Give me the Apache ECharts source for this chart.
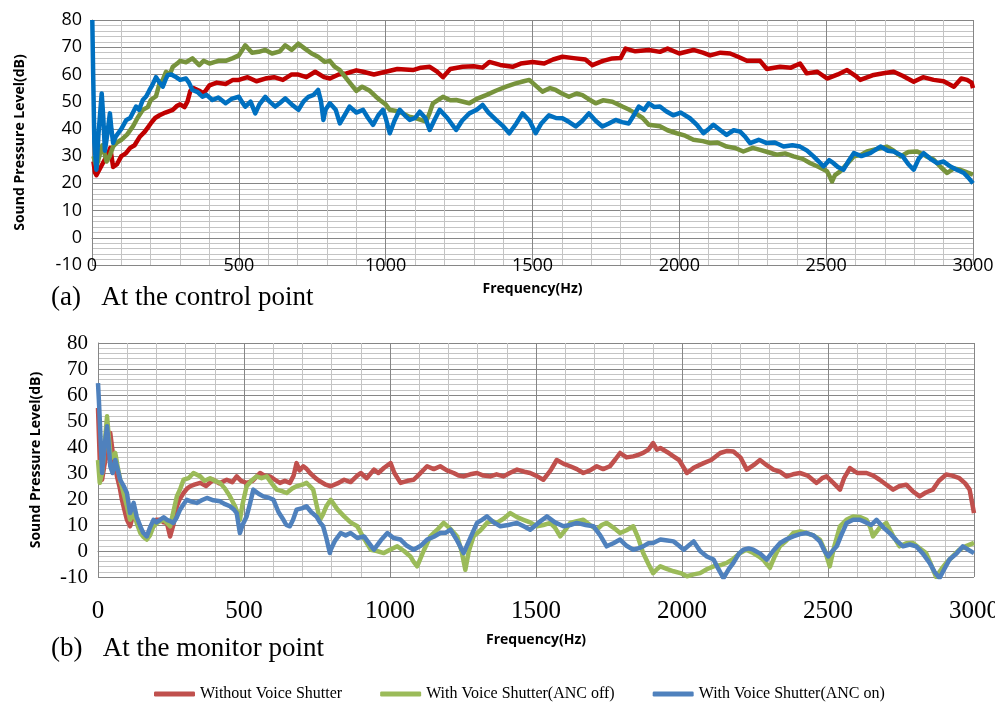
<!DOCTYPE html>
<html>
<head>
<meta charset="utf-8">
<title>Sound Pressure Level</title>
<script src="https://cdn.jsdelivr.net/npm/echarts@6/dist/echarts.min.js"></script>
<style>
  html, body { margin: 0; padding: 0; background: #fff; }
  #main { width: 995px; height: 702px; }
</style>
</head>
<body>
<div id="main"></div>
<script>
// series names (legend)
var names = ['Without Voice Shutter', 'With Voice Shutter(ANC off)', 'With Voice Shutter(ANC on)'];

// (a) control point  -  [Hz, dB]
var ctrlWithout = [[5,28],[10,24],[15,23],[25,25],[40,28],[55,31],[62,33],[72,26],[85,27],[100,30],[115,31],[130,33],[145,34],[162,37],[180,39],[200,42],[215,44],[230,45],[250,46],[275,47],[290,48.5],[300,49],[315,48],[325,50],[335,54],[345,55],[365,54],[380,53],[400,56],[425,57],[455,56.5],[480,58],[500,58],[530,59],[560,57.5],[590,58.5],[620,59],[650,58],[680,60],[700,60],[730,59],[760,61],[790,59],[810,58.5],[840,60],[866,60.4],[900,61.5],[923,61],[960,60],[1000,61],[1040,62],[1093,61.6],[1120,62.5],[1150,62.8],[1175,61],[1195,59],[1220,62],[1262,62.8],[1300,63],[1330,62.5],[1353,64.6],[1390,63.5],[1432,62.8],[1460,64],[1500,64.6],[1540,64],[1570,65.5],[1602,66.5],[1640,66],[1680,65.5],[1704,63.4],[1740,65],[1772,65.9],[1800,66],[1817,69.5],[1850,68.5],[1896,69],[1934,68.3],[1960,69.5],[2000,67.7],[2048,69],[2080,68],[2105,67],[2140,68],[2173,67.7],[2200,66.5],[2230,65],[2275,65],[2298,62],[2343,62.8],[2380,62.5],[2411,64],[2434,60.4],[2470,61],[2503,58.5],[2540,60],[2571,61.6],[2600,59.5],[2616,58],[2662,59.8],[2700,60.5],[2730,61],[2760,59.5],[2798,57.3],[2830,59],[2866,58],[2900,57.5],[2935,55.5],[2960,58.5],[2980,58],[2995,57],[3000,55]];
var ctrlAncOff = [[5,30],[15,26],[25,30],[35,34],[45,30],[50,28],[60,30],[72,33.5],[85,35],[100,36],[120,38],[140,41],[155,44],[173,47],[190,48],[200,50.6],[218,52],[230,56.7],[241,58],[252,61],[265,60],[275,62.8],[290,64],[300,65],[320,64.5],[342,65.9],[365,63.4],[380,65],[400,64],[430,65],[455,65],[480,66],[500,67],[522,70.7],[545,68],[568,68.3],[590,69],[613,67.7],[640,68.5],[658,70.7],[680,69],[703,71.3],[725,69.5],[748,67.7],[770,66.5],[793,64.6],[810,65],[825,63],[844,61.6],[870,58],[900,54],[920,55.5],[946,54],[965,52],[980,50.6],[1000,49],[1014,47],[1040,46.5],[1059,45.7],[1080,44.5],[1104,43.9],[1138,42.7],[1150,46],[1161,49.4],[1195,51.8],[1220,50.5],[1240,50.6],[1285,49.4],[1310,51],[1342,52.4],[1375,54],[1410,55.5],[1443,56.7],[1470,57.5],[1489,58],[1510,56],[1534,53.7],[1560,55],[1579,54.3],[1600,53],[1624,51.8],[1650,53],[1670,52.4],[1690,51],[1715,49.4],[1740,50.5],[1772,50],[1806,48.2],[1830,47],[1851,45.7],[1875,44],[1896,41.5],[1934,41],[1960,39.5],[1991,38.4],[2020,37.5],[2048,36],[2080,35.5],[2105,34.8],[2130,35],[2161,33.5],[2190,33],[2218,31.7],[2250,33],[2275,32.3],[2300,31.5],[2332,30.5],[2360,31],[2389,29.9],[2420,29],[2446,27.4],[2475,26],[2503,24.4],[2512,22.5],[2520,20.7],[2530,23],[2548,24.4],[2570,27],[2594,29.9],[2620,30.5],[2639,31.7],[2670,32.5],[2707,33.5],[2730,32],[2753,29.9],[2780,31.5],[2810,31.7],[2840,30],[2866,28.7],[2890,26],[2912,23.8],[2935,25.5],[2957,25],[2980,24],[3000,23.2]];
var ctrlAncOn = [[1,80],[4,60],[8,35],[15,25],[22,38],[33,53],[38,45],[44,32],[52,38],[61,45.7],[66,40],[72,34.8],[80,37],[89,38.4],[100,40],[117,43.3],[130,44],[150,48.2],[160,47],[173,50.6],[185,52],[196,54.3],[205,56],[218,59],[230,57],[241,55.5],[250,58],[258,59.8],[270,60],[286,59],[300,58],[320,58.5],[330,57],[342,54.3],[360,53.5],[376,51.8],[390,52.5],[410,50.6],[430,51.5],[455,49.4],[475,51],[500,51.8],[510,50],[522,48.2],[540,50],[556,45.7],[570,49],[590,51.8],[605,50],[624,48.2],[640,49.5],[658,51.2],[680,49],[703,47],[720,50],[737,51.8],[755,52.5],[770,54.3],[780,50],[788,43.3],[795,47],[810,49.4],[830,47],[844,42],[860,45],[877,48.2],[900,46],[923,47],[940,44],[957,41.5],[975,45],[991,47],[1000,44],[1014,38.4],[1030,43],[1048,47],[1065,45],[1082,43.3],[1100,44],[1116,46.3],[1135,44],[1150,39.6],[1165,43],[1184,47],[1210,44],[1240,39.6],[1260,43],[1285,45.7],[1310,47],[1330,48.8],[1350,46],[1376,43.3],[1400,41],[1421,38.4],[1445,42],[1466,45.7],[1490,43],[1511,38.4],[1530,42],[1556,45],[1580,44],[1602,43.9],[1625,42.5],[1647,40.9],[1670,43],[1692,45.7],[1715,43],[1738,40.9],[1760,42],[1783,43.3],[1805,42.5],[1828,42],[1845,45],[1862,48.2],[1880,47],[1896,49.4],[1915,48],[1934,48.2],[1955,46.5],[1979,45],[2005,46],[2036,43.9],[2060,41.5],[2082,38.4],[2100,40],[2116,41.5],[2140,39.5],[2161,37.8],[2185,39.5],[2207,39],[2225,37],[2241,34.8],[2270,36],[2298,34.8],[2325,35],[2355,33.5],[2385,34],[2411,33.5],[2435,32],[2457,29.9],[2475,28],[2491,26.2],[2510,28.5],[2525,27.4],[2540,26],[2559,25],[2575,28],[2594,31.1],[2620,30],[2650,31.1],[2670,32.5],[2685,33.5],[2710,32],[2730,31.7],[2760,30],[2780,27],[2798,25],[2815,29],[2832,31.1],[2855,29],[2878,27.4],[2900,28],[2923,26.2],[2945,25],[2969,23.8],[2985,22],[3000,20]];

// (b) monitor point  -  [Hz, dB]
var monWithout = [[0,55],[6,35],[14,27.4],[22,33],[31,37.7],[42,45.4],[48,40],[54,35],[65,28.7],[75,24],[82,19.7],[90,16],[99,12],[110,9.5],[122,14.6],[135,11],[145,8.2],[155,7],[167,5.6],[180,8],[190,9.5],[200,12],[213,12],[225,11],[236,10.8],[247,5.6],[258,10],[270,17.2],[280,20],[293,22.3],[305,24],[316,24.9],[330,25.5],[350,26.2],[370,25],[395,27.4],[415,26],[441,27.4],[460,26.5],[475,28.7],[490,27],[509,26.2],[530,27],[555,30],[570,29],[589,28.7],[605,27.5],[623,26.2],[640,27],[657,26.2],[670,29],[680,33.8],[690,31],[703,32.6],[715,31.5],[726,30],[745,28],[760,26.8],[780,25.5],[797,24.9],[820,26],[843,27.4],[865,26.5],[888,29],[900,30],[920,28],[945,31.3],[960,30],[980,32],[1002,33.8],[1015,30],[1036,26.2],[1060,27],[1081,27.4],[1100,29.5],[1127,32.6],[1150,31.5],[1172,32.6],[1195,31],[1218,30],[1235,29],[1252,28.7],[1275,29.5],[1298,30],[1320,29],[1343,28.7],[1365,29.5],[1389,28.7],[1410,30],[1435,31.3],[1460,30.5],[1480,30],[1500,29],[1525,27.4],[1550,31],[1571,35],[1595,33.5],[1617,32.6],[1640,31.5],[1662,30],[1685,31],[1708,32.6],[1730,31.5],[1753,32.6],[1770,35],[1788,37.7],[1810,36],[1833,36.4],[1850,37],[1867,37.7],[1885,39],[1901,41.5],[1914,39],[1926,39.6],[1950,38],[1971,36.4],[1990,35],[2017,30],[2040,32],[2074,33.8],[2100,35],[2131,37.7],[2155,38.5],[2176,38.3],[2200,36],[2222,31.3],[2245,33],[2267,35],[2290,33],[2313,31.3],[2335,30.5],[2358,28.7],[2380,29.5],[2404,30],[2430,29],[2461,26.2],[2480,28],[2495,28.7],[2520,26],[2541,23.6],[2555,28],[2575,31.9],[2600,30],[2632,30],[2655,29],[2677,27.4],[2700,25.5],[2723,23.6],[2745,25],[2768,25.5],[2790,23],[2814,21],[2835,22.5],[2859,23.6],[2880,27],[2905,29.4],[2925,29],[2950,28],[2970,26],[2985,23.6],[3000,14.6]];
var monAncOff = [[0,35],[6,26.2],[14,30],[22,40],[31,51.8],[36,45],[42,37.7],[50,36],[59,37.7],[68,32],[76,27.4],[88,22],[99,17.2],[110,12],[122,14.6],[135,10],[145,6.9],[155,5.5],[167,4.4],[178,6],[190,9.5],[205,11],[224,12],[235,11],[247,9.5],[258,15],[270,21],[282,24],[293,27.4],[310,28],[327,30],[350,28.7],[365,27],[384,28],[400,27],[418,26.2],[435,24],[452,21],[470,17],[486,12],[495,18],[509,24.9],[525,27],[543,28.7],[560,28],[578,28.7],[595,26],[612,23.6],[630,23],[646,22.3],[665,24],[680,24.9],[700,25.5],[714,26.2],[725,25],[737,23.6],[748,18],[760,12],[770,14],[782,17.2],[797,19.7],[820,16],[843,13.3],[865,11],[888,9.5],[910,5],[934,0.5],[955,0],[979,-0.8],[1000,0.5],[1025,1.8],[1048,0],[1070,-2.1],[1080,-4],[1093,-5.9],[1115,0],[1138,5.6],[1160,8],[1184,10.8],[1207,8.5],[1230,5.6],[1245,0],[1258,-7.2],[1270,0],[1286,5.6],[1310,8],[1332,10.8],[1350,11.5],[1366,10.8],[1390,12.5],[1412,14.6],[1435,13],[1457,12],[1480,11],[1503,9.5],[1525,10],[1549,10.8],[1565,9],[1583,5.6],[1600,8],[1617,10.8],[1640,11.5],[1662,12],[1685,10],[1708,8.2],[1725,10],[1742,10.8],[1765,9],[1788,6.9],[1810,8],[1833,9.5],[1850,5],[1867,-0.8],[1885,-5],[1901,-8.5],[1914,-7],[1926,-5.9],[1950,-7],[1971,-7.8],[1995,-8.5],[2017,-9.7],[2040,-9],[2062,-8.5],[2085,-7],[2108,-5.9],[2130,-5.5],[2153,-4.6],[2176,-3],[2199,-0.8],[2220,0.5],[2244,-0.8],[2262,-2],[2278,-3.3],[2290,-5],[2301,-6.5],[2318,-2],[2335,1.8],[2358,4],[2381,6.9],[2405,7.5],[2427,6.9],[2450,6],[2472,4.4],[2490,0],[2506,-5.9],[2522,2],[2541,9.5],[2563,12],[2586,13.3],[2610,13],[2632,12],[2645,9],[2654,5.6],[2677,9],[2700,10.8],[2722,6],[2745,1.8],[2768,3],[2791,3.1],[2815,1],[2836,-0.8],[2852,-5],[2870,-10],[2888,-7],[2905,-4.6],[2928,-2],[2950,0.5],[2975,2],[3000,3.1]];
var monAncOn = [[0,64.6],[3,58],[6,50.5],[10,40],[14,30],[22,40],[31,48],[36,42],[42,32.6],[50,30],[59,35],[68,31],[76,27.4],[88,25],[99,22.3],[105,18],[110,14.6],[122,18.5],[133,13],[145,9.5],[155,7],[167,5.6],[178,9],[190,12],[200,11],[213,12],[225,13],[236,12],[247,11.5],[258,10.8],[270,13],[281,15.9],[293,18],[304,19.7],[320,19],[338,18.5],[355,19.5],[373,20.4],[395,19.5],[418,19.1],[435,18],[452,17.2],[465,16],[475,14.6],[486,6.9],[495,10],[509,13.3],[520,18],[532,23.6],[550,22],[566,21],[585,20.5],[601,19.7],[618,15],[635,12],[645,10],[657,9.5],[668,12],[680,15.9],[700,16.5],[714,17.2],[730,15],[748,13.3],[760,11],[771,9.5],[782,5],[794,-0.8],[797,0.5],[812,4],[831,6.9],[848,6],[865,6.9],[888,5],[911,5.6],[928,3],[945,0.5],[968,4],[991,6.9],[1012,5],[1036,4.4],[1058,2],[1081,0.5],[1105,2],[1127,4.4],[1150,5.5],[1172,6.9],[1190,7],[1207,8.2],[1230,4],[1252,-0.8],[1275,5],[1298,10.8],[1315,12],[1332,13.3],[1355,11],[1378,9.5],[1405,10],[1435,10.8],[1458,9.5],[1480,8.2],[1510,11],[1537,13.3],[1565,11],[1594,9.5],[1617,10],[1640,10.8],[1670,10],[1697,9.5],[1720,6],[1742,1.8],[1765,3],[1788,4.4],[1810,2],[1833,0.5],[1850,1],[1867,1.8],[1885,3],[1901,3.1],[1926,4.4],[1950,4],[1971,3.7],[1990,2],[2006,0.5],[2022,2],[2040,3.7],[2062,0],[2085,-2.1],[2108,-3.3],[2125,-7],[2142,-10.4],[2160,-7],[2176,-4.6],[2195,-1],[2210,0.5],[2228,1],[2244,0.5],[2268,-1],[2290,-3.3],[2312,0],[2336,3.1],[2358,4.5],[2381,5.6],[2404,6.5],[2427,6.9],[2450,6],[2472,3.7],[2488,0],[2501,-2.1],[2515,0],[2530,1.8],[2545,6],[2564,10.8],[2586,12],[2609,12],[2630,11],[2648,10],[2666,12],[2690,9],[2711,6.9],[2735,4],[2757,1.8],[2780,2.5],[2802,1.8],[2825,-1],[2848,-4.6],[2865,-8],[2882,-10.4],[2898,-7],[2916,-3.3],[2940,-1],[2962,1.8],[2980,0.5],[3000,-0.8]];

var ctrlColors = ['#C00000', '#77933C', '#0070C0'];
var monColors = ['#C0504D', '#9BBB59', '#4F81BD'];

function lineSeries(name, data, color, idx) {
    return {
        name: name,
        type: 'line',
        xAxisIndex: idx,
        yAxisIndex: idx,
        data: data,
        showSymbol: false,
        symbol: 'none',
        clip: true,
        lineStyle: { color: color, width: 4.5, join: 'round' },
        itemStyle: { color: color }
    };
}

function xAx(idx, labelFont, labelSize, labelMargin, nameGap) {
    return {
        gridIndex: idx,
        type: 'value',
        min: 0, max: 3000, interval: 500,
        name: 'Frequency(Hz)',
        nameLocation: 'middle',
        nameGap: nameGap,
        nameTextStyle: { fontFamily: 'Open Sans', fontWeight: 'bold', fontSize: 14, color: '#000' },
        axisLine: { lineStyle: { color: '#868686', width: 1 } },
        axisTick: { show: false },
        axisLabel: {
            fontFamily: labelFont, fontSize: labelSize, color: '#000',
            margin: labelMargin, verticalAlign: 'middle',
            formatter: function (v) { return String(v); }
        },
        splitLine: { show: true, lineStyle: { color: '#868686', width: 1 } },
        minorTick: { show: false, splitNumber: 5 },
        minorSplitLine: { show: true, lineStyle: { color: '#C4C4C4', width: 1 } }
    };
}

function yAx(idx, labelFont, labelSize, nameGap) {
    return {
        gridIndex: idx,
        type: 'value',
        min: -10, max: 80, interval: 10,
        name: 'Sound Pressure Level(dB)',
        nameLocation: 'middle',
        nameRotate: 90,
        nameGap: nameGap,
        nameTextStyle: { fontFamily: 'Open Sans', fontWeight: 'bold', fontSize: 14, color: '#000' },
        axisLine: { show: true, lineStyle: { color: '#868686', width: 1 } },
        axisTick: { show: false },
        axisLabel: { fontFamily: labelFont, fontSize: labelSize, color: '#000', margin: 10 },
        splitLine: { show: true, lineStyle: { color: '#868686', width: 1 } },
        minorTick: { show: false, splitNumber: 5 },
        minorSplitLine: { show: true, lineStyle: { color: '#C4C4C4', width: 1 } }
    };
}

var myChart = echarts.init(document.getElementById('main'), null, { renderer: 'canvas' });

var option = {
    animation: false,
    backgroundColor: '#fff',
    title: [
        { text: '(a)   At the control point', left: 46, top: 279,
          textStyle: { fontFamily: 'Liberation Serif', fontWeight: 'normal', fontSize: 27, color: '#000' } },
        { text: '(b)   At the monitor point', left: 46, top: 630,
          textStyle: { fontFamily: 'Liberation Serif', fontWeight: 'normal', fontSize: 27, color: '#000' } }
    ],
    legend: {
        data: names,
        left: 149, top: 681,
        icon: 'roundRect',
        itemWidth: 41, itemHeight: 5,
        itemGap: 38,
        textStyle: { fontFamily: 'Liberation Serif', fontSize: 16, color: '#000' }
    },
    grid: [
        { left: 92, right: 22, top: 20, height: 245, outerBoundsMode: 'none' },
        { left: 98, right: 21, top: 343, height: 234, outerBoundsMode: 'none' }
    ],
    xAxis: [
        xAx(0, 'Open Sans', 18, 1, 17),
        xAx(1, 'Liberation Serif', 25, 34, 56)
    ],
    yAxis: [
        yAx(0, 'Open Sans', 18, 65),
        yAx(1, 'Liberation Serif', 21, 55)
    ],
    series: [
        // monitor point first so the legend takes these colours
        lineSeries(names[0], monWithout, monColors[0], 1),
        lineSeries(names[1], monAncOff, monColors[1], 1),
        lineSeries(names[2], monAncOn, monColors[2], 1),
        lineSeries(names[0], ctrlWithout, ctrlColors[0], 0),
        lineSeries(names[1], ctrlAncOff, ctrlColors[1], 0),
        lineSeries(names[2], ctrlAncOn, ctrlColors[2], 0)
    ]
};

myChart.setOption(option);
</script>
</body>
</html>
